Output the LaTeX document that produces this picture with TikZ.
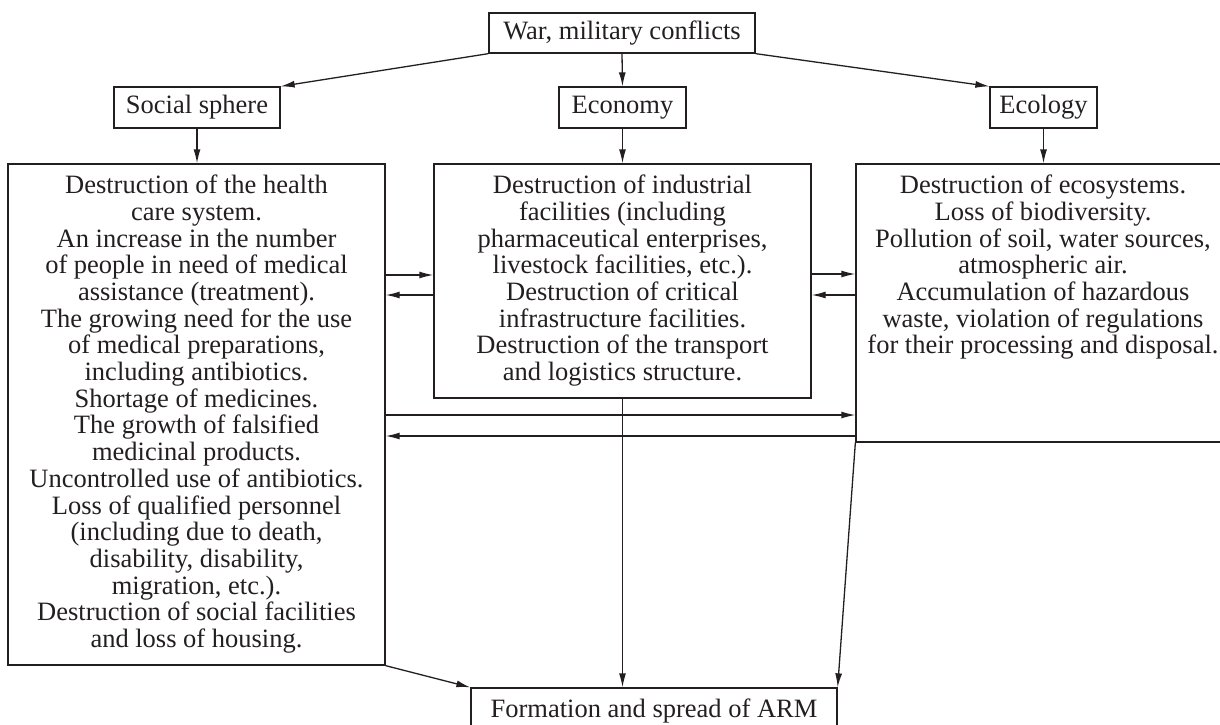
\documentclass[tikz,border=0pt]{standalone}
\usepackage{fontspec}
\setmainfont{Liberation Serif}
\usetikzlibrary{arrows.meta}
\definecolor{ink}{HTML}{231F20}
\newcommand\boxlines[2]{\parbox[c][#1][t]{360pt}{\centering\vspace*{11pt}#2}}
\begin{document}
\begin{tikzpicture}[x=1pt,y=-1pt,
  every node/.style={font=\fontsize{26.5}{26.7}\selectfont, text=ink},
  box/.style={draw=ink, line width=1.3pt, inner sep=0pt, align=center},
  arr/.style={draw=ink, line width=1.3pt, -{Latex[length=14pt,width=7pt]}}]
\clip (0,0) rectangle (1220,724);
\node[box, minimum width=266pt, minimum height=40pt] (war) at (622,33) {War, military conflicts};
\node[box, minimum width=166pt, minimum height=41pt] (soc) at (197,107.5) {Social sphere};
\node[box, minimum width=127pt, minimum height=41pt] (eco) at (622.5,107.5) {Economy};
\node[box, minimum width=107pt, minimum height=41pt] (ecl) at (1043.5,107.5) {Ecology};
\node[box, minimum width=377pt] (socb) at (196.5,414.5) {\boxlines{501pt}{Destruction of the health\\
care system.\\
An increase in the number\\
of people in need of medical\\
assistance (treatment).\\
The growing need for the use\\
of medical preparations,\\
including antibiotics.\\
Shortage of medicines.\\
The growth of falsified\\
medicinal products.\\
Uncontrolled use of antibiotics.\\
Loss of qualified personnel\\
(including due to death,\\
disability, disability,\\
migration, etc.).\\
Destruction of social facilities\\
and loss of housing.}};
\node[box, minimum width=377pt] (ecob) at (622.5,281) {\boxlines{234pt}{Destruction of industrial\\
facilities (including\\
pharmaceutical enterprises,\\
livestock facilities, etc.).\\
Destruction of critical\\
infrastructure facilities.\\
Destruction of the transport\\
and logistics structure.}};
\node[box, minimum width=374pt] (eclb) at (1043,303) {\boxlines{278pt}{Destruction of ecosystems.\\
Loss of biodiversity.\\
Pollution of soil, water sources,\\
atmospheric air.\\
Accumulation of hazardous\\
waste, violation of regulations\\
for their processing and disposal.}};
\node[box, minimum width=366pt, minimum height=46pt] (arm) at (654,711) {Formation and spread of ARM};
\draw[arr] (war.south west) -- (soc.north east);
\draw[arr] (war.south) -- (eco.north);
\draw[arr] (war.south east) -- (ecl.north west);
\draw[arr] (soc.south) -- (soc.south |- socb.north);
\draw[arr] (eco.south) -- (eco.south |- ecob.north);
\draw[arr] (ecl.south) -- (ecl.south |- eclb.north);
\draw[arr] (socb.east |- 0,275) -- (ecob.west |- 0,275);
\draw[arr] (ecob.west |- 0,295) -- (socb.east |- 0,295);
\draw[arr] (ecob.east |- 0,274) -- (eclb.west |- 0,274);
\draw[arr] (eclb.west |- 0,295) -- (ecob.east |- 0,295);
\draw[arr] (socb.east |- 0,415) -- (eclb.west |- 0,415);
\draw[arr] (eclb.west |- 0,436) -- (socb.east |- 0,436);
\draw[arr] (ecob.south) -- (ecob.south |- arm.north);
\draw[arr] (socb.south east) -- (arm.north west);
\draw[arr] (eclb.south west) -- (arm.north east);
\end{tikzpicture}
\end{document}
